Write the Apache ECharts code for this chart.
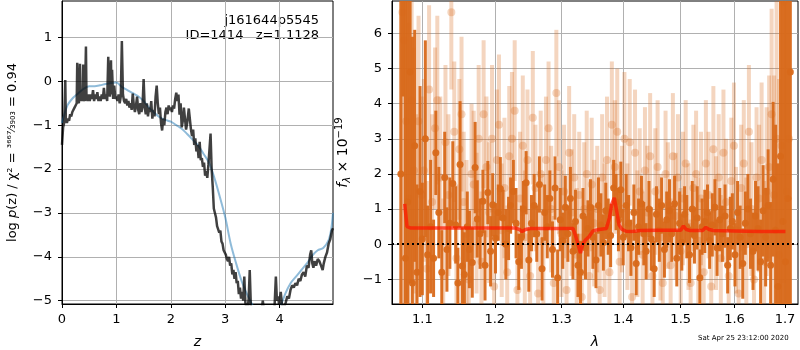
<!DOCTYPE html>
<html>
<head>
<meta charset="utf-8">
<script src="https://cdn.jsdelivr.net/npm/echarts@6/dist/echarts.min.js"></script>
<style>
  html, body { margin: 0; padding: 0; background: #fff; }
  #chart { width: 800px; height: 350px; }
</style>
</head>
<body>
<div id="chart"></div>
<script>
// left panel: log p(z), noisy fit and smooth prior-ish curve
const zDark = [
  0.00, 0.02, 0.04, 0.06, 0.07, 0.09, 0.11, 0.13, 0.15, 0.17, 0.19, 0.21, 0.23, 0.25, 0.27, 0.28, 0.29, 0.31, 0.33, 0.34,
  0.36, 0.38, 0.39, 0.40, 0.42, 0.44, 0.45, 0.47, 0.49, 0.51, 0.53, 0.55, 0.57, 0.59, 0.61, 0.63, 0.65, 0.67, 0.69, 0.71,
  0.73, 0.75, 0.77, 0.79, 0.81, 0.83, 0.85, 0.86, 0.88, 0.90, 0.91, 0.92, 0.94, 0.96, 0.98, 1.00, 1.02, 1.04, 1.06, 1.08,
  1.10, 1.12, 1.14, 1.16, 1.18, 1.20, 1.22, 1.24, 1.26, 1.28, 1.30, 1.32, 1.34, 1.36, 1.38, 1.40, 1.42, 1.44, 1.46, 1.48,
  1.50, 1.52, 1.54, 1.56, 1.58, 1.60, 1.62, 1.64, 1.66, 1.68, 1.70, 1.72, 1.74, 1.76, 1.78, 1.80, 1.82, 1.84, 1.86, 1.88,
  1.90, 1.92, 1.94, 1.96, 1.98, 2.00, 2.02, 2.04, 2.06, 2.08, 2.10, 2.12, 2.14, 2.16, 2.18, 2.20, 2.22, 2.24, 2.26, 2.28,
  2.30, 2.33, 2.35, 2.37, 2.39, 2.41, 2.43, 2.45, 2.47, 2.49, 2.51, 2.53, 2.55, 2.57, 2.59, 2.61, 2.63, 2.65, 2.67, 2.69,
  2.71, 2.73, 2.75, 2.77, 2.79, 2.81, 2.83, 2.85, 2.87, 2.89, 2.91, 2.93, 2.95, 2.97, 2.99, 3.01, 3.03, 3.05, 3.07, 3.09,
  3.11, 3.13, 3.15, 3.17, 3.19, 3.21, 3.23, 3.25, 3.27, 3.29, 3.31, 3.33, 3.35, 3.37, 3.39, 3.41, 3.43, 3.45, 3.47, 3.49,
  3.52, 3.56, 3.60, 3.64, 3.67, 3.69, 3.71, 3.75, 3.80, 3.85, 3.90, 3.93, 3.95, 3.97, 3.99, 4.02, 4.05, 4.08, 4.11, 4.14,
  4.17, 4.20, 4.23, 4.26, 4.29, 4.32, 4.35, 4.38, 4.41, 4.44, 4.47, 4.50, 4.53, 4.56, 4.58, 4.60, 4.62, 4.64, 4.67, 4.70,
  4.73, 4.76, 4.79, 4.81, 4.84, 4.87, 4.90, 4.93, 4.96, 4.98
]
const logpDark = [
  -1.45, -1.05, -0.95, 0.03, -0.85, -0.95, -0.85, -0.9, -0.75, -0.8, -0.7, -0.72, -0.6, -0.55, -0.5, 0.42, -0.45, -0.5, 0.40, -0.45,
  -0.35, -0.45, 0.38, -0.4, -0.45, 0.79, -0.35, -0.45, -0.3, -0.45, -0.3, -0.4, -0.2, -0.45, -0.3, -0.4, -0.25, -0.45, -0.35, -0.45,
  -0.3, -0.4, -0.15, -0.4, -0.3, -0.45, 0.56, -0.2, -0.35, 0.48, -0.3, 0.26, -0.4, -0.1, -0.4, -0.35, -0.45, -0.3, -0.5, -0.35,
  0.92, -0.3, -0.45, -0.5, -0.4, -0.55, -0.45, -0.6, -0.5, -0.65, -0.28, -0.55, -0.7, -0.55, -0.35, -0.65, -0.75, -0.5, -0.7, -0.55,
  0.05, -0.6, -0.75, -0.5, -0.8, -0.6, -0.7, -0.45, -0.85, -0.65, -0.8, -0.35, -0.1, -0.5, -0.75, -0.6, -0.95, -1.12, -0.85, -1.0,
  -0.7, -0.6, -0.75, -0.55, -0.65, -0.6, -0.7, -0.55, -0.62, -0.4, -0.26, -0.45, -0.3, -0.76, -0.5, -1.05, -0.9, -0.6, -0.85, -1.1,
  -0.95, -0.62, -0.6, -1.1, -1.25, -1.1, -1.45, -1.3, -1.6, -1.45, -1.75, -1.38, -1.8, -1.75, -1.95, -1.85, -2.15, -2.05, -2.2, -1.9,
  -1.55, -1.19, -2.0, -2.4, -2.9, -3.0, -3.1, -3.3, -3.3, -3.45, -3.4, -3.65, -3.7, -3.85, -3.9, -3.95, -4.05, -4.1, -4.0, -4.2,
  -4.15, -4.4, -4.3, -4.5, -4.35, -4.6, -4.55, -4.85, -4.7, -4.95, -4.8, -5.0, -4.45, -5.05, -5.15, -5.2, -4.95, -4.3, -5.1, -5.3,
  -5.4, -5.5, -5.6, -5.3, -5.2, -5.0, -5.2, -5.5, -5.7, -5.6, -5.3, -4.45, -5.0, -4.9, -5.1, -4.8, -5.2, -5.15, -5.05, -4.9,
  -4.95, -4.75, -4.65, -4.7, -4.6, -4.65, -4.5, -4.55, -4.4, -4.35, -4.45, -4.2, -4.25, -3.95, -3.85, -4.15, -4.25, -4.1, -4.2, -4.05,
  -4.1, -4.2, -4.3, -4.15, -4.0, -3.9, -3.7, -3.6, -3.4, -3.35
]
const zSmooth = [
  0.0, 0.1, 0.2, 0.3, 0.4, 0.5, 0.6, 0.7, 0.8, 0.9, 1.0, 1.1, 1.2, 1.3, 1.4, 1.5, 1.6, 1.7, 1.8, 1.9,
  2.0, 2.1, 2.2, 2.3, 2.4, 2.5, 2.6, 2.7, 2.8, 2.9, 3.0, 3.1, 3.2, 3.3, 3.4, 3.5, 3.6, 3.7, 3.8, 3.9,
  4.0, 4.1, 4.2, 4.3, 4.4, 4.5, 4.6, 4.7, 4.8, 4.9, 4.95, 4.98
]
const logpSmooth = [
  -0.95, -0.55, -0.38, -0.27, -0.17, -0.11, -0.11, -0.09, -0.06, -0.04, -0.03, -0.13, -0.2, -0.27, -0.34, -0.45, -0.6, -0.72, -0.82, -0.88,
  -0.92, -1.0, -1.08, -1.2, -1.33, -1.46, -1.65, -1.85, -2.2, -2.63, -3.1, -3.7, -4.15, -4.55, -4.85, -5.1, -5.4, -5.6, -5.7, -5.6,
  -5.2, -4.85, -4.6, -4.45, -4.3, -4.15, -3.97, -3.85, -3.8, -3.62, -3.35, -3.0
]
const zTicks = [0, 1, 2, 3, 4]
const logpTicks = [-5, -4, -3, -2, -1, 0, 1]

// right panel: spectrum, two beams + model
const darkLam = [
  1.072, 1.075, 1.078, 1.081, 1.084, 1.087, 1.090, 1.093, 1.097, 1.100, 1.104, 1.107, 1.111, 1.115, 1.118, 1.122, 1.126, 1.130, 1.133, 1.137,
  1.141, 1.145, 1.148, 1.151, 1.154, 1.157, 1.161, 1.164, 1.168, 1.172, 1.175, 1.179, 1.183, 1.186, 1.190, 1.194, 1.197, 1.201, 1.205, 1.208,
  1.212, 1.216, 1.220, 1.223, 1.227, 1.231, 1.235, 1.239, 1.242, 1.246, 1.250, 1.254, 1.258, 1.262, 1.266, 1.270, 1.274, 1.278, 1.282, 1.286,
  1.290, 1.294, 1.298, 1.302, 1.306, 1.310, 1.314, 1.318, 1.322, 1.326, 1.330, 1.334, 1.338, 1.342, 1.346, 1.350, 1.355, 1.359, 1.363, 1.367,
  1.371, 1.375, 1.379, 1.384, 1.388, 1.392, 1.396, 1.400, 1.405, 1.409, 1.413, 1.418, 1.422, 1.426, 1.431, 1.435, 1.439, 1.444, 1.448, 1.453,
  1.457, 1.462, 1.466, 1.471, 1.475, 1.480, 1.484, 1.489, 1.493, 1.498, 1.502, 1.507, 1.511, 1.516, 1.521, 1.525, 1.530, 1.535, 1.539, 1.544,
  1.549, 1.553, 1.558, 1.563, 1.567, 1.572, 1.577, 1.582, 1.587, 1.592, 1.596, 1.601, 1.606, 1.611, 1.616, 1.621, 1.626, 1.631, 1.636, 1.641,
  1.646, 1.651, 1.656, 1.661, 1.666, 1.671, 1.676, 1.681, 1.686, 1.691, 1.696, 1.701, 1.706, 1.711
]
const darkFlux = [
  2.0, 10.5, -0.4, 1.2, 4.9, -1.1, 2.8, -0.8, 1.5, 0.15, 3.0, -0.3, 0.5, -0.4, 2.6, 0.9, -0.8, 1.9, -0.15, 0.6,
  1.73, 0.55, -1.1, 2.27, -0.62, -0.86, 0.5, -0.15, -0.52, 2.18, 0.72, 0.3, 1.22, -0.6, 1.47, -0.2, 1.12, 0.17, 0.9, 1.58,
  0.75, 0.0, 0.45, 1.1, 1.5, 0.6, -0.5, 0.2, 1.0, 1.75, -0.45, 0.6, 1.1, 0.3, 1.7, -0.7, 0.9, 0.5, 1.3, -0.15,
  1.6, -0.95, 0.7, 0.1, 1.05, 0.3, 1.3, -0.2, 0.65, -0.6, -0.8, 0.8, -0.1, 0.45, 1.05, 0.2, -0.45, 1.1, 0.55, 0.05,
  0.95, 0.5, 0.25, 1.6, 1.2, 0.7, 1.55, 0.2, 1.1, 0.6, -0.1, 0.9, -0.55, 0.5, 1.15, 0.3, -0.2, 1.0, 0.15, -0.7,
  0.85, 0.4, 1.1, -0.15, 0.7, 0.95, 0.3, 1.15, -0.4, 0.6, 0.05, 0.85, 0.5, -0.3, 1.0, 0.25, 0.75, -0.95, 0.5, 0.65,
  0.9, 0.1, 0.55, 1.05, -0.1, 0.7, 0.3, 0.8, -0.6, 0.45, 0.65, -0.3, 0.9, 0.2, -0.55, 0.6, 1.0, 0.3, -0.2, 0.8,
  0.45, -0.5, 0.95, 0.2, 1.1, -0.6, 1.85, 0.4, -1.2, 2.5, 0.65, -0.5, 1.3, 4.9
]
const darkErr = [
  9, 6.3, 9, 8, 6, 7, 3.3, 2.5, 3.0, 1.6, 2.8, 1.4, 1.9, 1.1, 1.2, 1.3, 1.2, 1.3, 1.2, 1.3,
  1.2, 1.1, 1.0, 1.8, 1.1, 1.2, 1.0, 1.1, 1.0, 1.3, 1.1, 1.0, 0.9, 1.0, 0.9, 1.0, 0.9, 1.0, 0.8, 0.9,
  0.8, 1.0, 0.9, 0.8, 0.9, 1.0, 0.8, 0.9, 0.8, 0.9, 0.9, 0.8, 0.9, 0.8, 0.8, 0.9, 0.8, 0.9, 0.8, 0.8,
  0.9, 0.8, 0.9, 0.8, 0.9, 0.8, 0.9, 0.8, 0.9, 0.9, 0.9, 0.8, 0.9, 0.8, 0.8, 0.9, 0.8, 0.8, 0.9, 0.8,
  0.8, 0.8, 0.9, 0.8, 0.8, 0.9, 0.8, 0.8, 0.9, 0.8, 0.8, 0.8, 0.9, 0.8, 0.8, 0.9, 0.8, 0.8, 0.9, 0.8,
  0.8, 0.9, 0.8, 0.8, 0.8, 0.9, 0.8, 0.8, 0.8, 0.9, 0.8, 0.8, 0.9, 0.8, 0.8, 0.8, 0.9, 0.8, 0.8, 0.9,
  0.8, 0.8, 0.9, 0.8, 0.8, 0.9, 0.8, 0.9, 0.8, 0.9, 0.8, 0.9, 0.9, 0.9, 1.0, 0.9, 1.0, 1.0, 1.1, 1.0,
  1.2, 1.2, 1.3, 1.4, 1.6, 1.8, 2.2, 3.0, 3.5, 5, 7, 10, 10, 10
]
const lightLam = [
  1.074, 1.076, 1.079, 1.082, 1.086, 1.089, 1.092, 1.095, 1.099, 1.102, 1.106, 1.109, 1.113, 1.117, 1.120, 1.124, 1.128, 1.131, 1.135, 1.139,
  1.143, 1.146, 1.150, 1.153, 1.156, 1.160, 1.163, 1.167, 1.170, 1.174, 1.177, 1.181, 1.184, 1.188, 1.192, 1.196, 1.199, 1.203, 1.206, 1.210,
  1.214, 1.218, 1.221, 1.225, 1.229, 1.233, 1.237, 1.241, 1.244, 1.248, 1.252, 1.256, 1.260, 1.264, 1.268, 1.272, 1.276, 1.280, 1.284, 1.288,
  1.292, 1.296, 1.300, 1.304, 1.308, 1.312, 1.316, 1.320, 1.324, 1.328, 1.332, 1.336, 1.340, 1.344, 1.348, 1.352, 1.357, 1.361, 1.365, 1.369,
  1.373, 1.377, 1.381, 1.386, 1.390, 1.394, 1.398, 1.402, 1.407, 1.411, 1.415, 1.420, 1.424, 1.428, 1.433, 1.437, 1.441, 1.446, 1.450, 1.455,
  1.459, 1.464, 1.468, 1.473, 1.477, 1.482, 1.486, 1.491, 1.495, 1.500, 1.504, 1.509, 1.514, 1.518, 1.523, 1.528, 1.532, 1.537, 1.542, 1.546,
  1.551, 1.556, 1.560, 1.565, 1.570, 1.574, 1.579, 1.584, 1.589, 1.594, 1.599, 1.603, 1.608, 1.613, 1.618, 1.623, 1.628, 1.633, 1.638, 1.643,
  1.648, 1.653, 1.658, 1.663, 1.668, 1.673, 1.678, 1.683, 1.688, 1.693, 1.698, 1.703, 1.708
]
const lightFlux = [
  6.6, 5.8, 3.5, 1.3, 4.1, 2.1, 0.5, 3.5, 1.4, 2.1, -0.7, 4.4, 1.2, 3.3, 4.1, 1.9, -0.9, 2.9, 1.4, 6.6,
  3.2, -0.4, 2.7, 3.7, 1.2, 0.3, -1.0, 2.0, 1.7, 0.6, 3.0, -0.5, 3.7, 2.2, 0.9, 3.0, -1.2, 2.4, 3.4, 0.4,
  1.6, -0.8, 2.5, 3.0, 3.8, -1.3, 1.3, 2.8, 0.2, 2.4, -0.9, 3.6, 1.6, -1.4, 2.0, 0.1, 2.4, 3.3, 1.0, -1.1,
  4.3, 2.2, 0.3, 1.5, -1.3, 2.6, 0.9, 1.9, -0.3, 1.4, -1.5, 1.0, 2.0, -0.9, 1.7, 0.6, 1.0, -1.3, 1.9, 0.4,
  2.4, -0.8, 3.4, 2.2, 3.2, -0.5, 1.0, 3.0, 0.5, 2.9, -1.5, 2.6, 0.3, 1.5, -0.3, 2.1, 0.9, 2.5, -0.9, 1.5,
  2.2, 0.2, -1.1, 2.0, 1.1, -0.6, 2.5, 0.8, 1.9, -0.2, 1.3, 2.3, 0.5, -1.1, 1.6, 2.0, 0.1, 1.3, -0.8, 2.3,
  1.4, -1.2, 2.7, 0.6, 1.9, -0.4, 2.6, 1.2, -0.9, 1.8, 2.8, 0.4, -1.4, 1.6, 2.3, 0.0, 3.2, 1.0, -1.0, 1.9,
  1.3, 2.4, -0.5, 1.5, 2.2, 3.7, 1.4, 3.0, -0.3, 2.8, 6.9, 1.5, 3.0
]
const lightErr = [
  10, 8, 6, 5, 4, 3.5, 3.2, 3.0, 2.8, 2.6, 2.5, 2.4, 2.5, 2.3, 2.4, 2.3, 2.2, 2.2, 2.3, 2.2,
  2.0, 2.1, 2.0, 2.2, 2.0, 2.1, 2.0, 2.0, 2.1, 2.0, 2.1, 2.0, 2.1, 2.0, 2.0, 2.1, 2.0, 2.0, 2.0, 1.9,
  2.0, 1.9, 2.0, 1.9, 2.0, 1.9, 1.9, 2.0, 1.9, 2.0, 1.9, 1.9, 1.8, 1.9, 1.8, 1.9, 1.8, 1.9, 1.8, 1.9,
  1.8, 1.9, 1.8, 1.9, 1.8, 1.9, 1.8, 1.8, 1.9, 1.8, 1.8, 1.9, 1.8, 1.8, 1.9, 1.8, 1.8, 1.8, 1.8, 1.9,
  1.8, 1.8, 1.8, 1.9, 1.8, 1.8, 1.8, 1.9, 1.8, 1.8, 1.8, 1.8, 1.8, 1.8, 1.8, 1.8, 1.9, 1.8, 1.8, 1.8,
  1.9, 1.8, 1.8, 1.8, 1.8, 1.9, 1.8, 1.8, 1.8, 1.8, 1.9, 1.8, 1.8, 1.8, 1.8, 1.8, 1.8, 1.9, 1.8, 1.8,
  1.8, 1.8, 1.8, 1.9, 1.8, 1.8, 1.8, 1.8, 1.9, 1.8, 1.8, 1.8, 1.9, 1.8, 1.8, 1.9, 1.9, 1.9, 2.0, 2.0,
  2.1, 2.2, 2.3, 2.4, 2.6, 3.0, 3.4, 4, 5, 6, 8, 10, 10
]
const modelLam = [
  1.077, 1.080, 1.085, 1.100, 1.150, 1.200, 1.230, 1.236, 1.240, 1.245, 1.252, 1.280, 1.318, 1.322, 1.326, 1.330, 1.334, 1.338, 1.344, 1.350,
  1.360, 1.372, 1.377, 1.381, 1.385, 1.389, 1.393, 1.398, 1.405, 1.415, 1.430, 1.460, 1.500, 1.505, 1.510, 1.517, 1.540, 1.546, 1.552, 1.560,
  1.600, 1.650, 1.701
]
const modelFlux = [
  1.15, 0.5, 0.46, 0.46, 0.46, 0.46, 0.46, 0.42, 0.36, 0.42, 0.45, 0.45, 0.45, 0.25, 0.0, -0.25, 0.02, 0.12, 0.22, 0.38,
  0.42, 0.45, 0.75, 1.15, 1.32, 0.95, 0.55, 0.42, 0.37, 0.36, 0.39, 0.4, 0.4, 0.52, 0.42, 0.39, 0.39, 0.48, 0.42, 0.39,
  0.38, 0.36, 0.36
]
const lamTicks = [1.1, 1.2, 1.3, 1.4, 1.5, 1.6, 1.7]
const fluxTicks = [-1, 0, 1, 2, 3, 4, 5, 6]

const FONT = 'DejaVu Sans'
const ORANGE = '#d8691a'
const minus = v => String(v).replace('-', '\u2212')

// wavelength axis is logarithmic, so the series go in as ln(lambda)
const lnPoints = (lam, flux, err) => lam.map((l, i) => [Math.log(l), flux[i], err[i]])

const errRender = (width, radius, opacity) => (params, api) => {
  const x = api.value(0)
  const y = api.value(1)
  const e = api.value(2)
  const top = api.coord([x, y + e])
  const bot = api.coord([x, y - e])
  const mid = api.coord([x, y])
  return {
    type: 'group',
    children: [
      { type: 'line', shape: { x1: top[0], y1: top[1], x2: bot[0], y2: bot[1] }, style: { stroke: ORANGE, lineWidth: width, opacity: opacity } },
      { type: 'circle', shape: { cx: mid[0], cy: mid[1], r: radius }, style: { fill: ORANGE, opacity: opacity } },
    ],
  }
}

const axisCommon = {
  axisLine: { show: true, onZero: false, lineStyle: { color: '#000', width: 1 } },
  axisTick: { show: true, inside: false, length: 4, lineStyle: { color: '#000' } },
  axisLabel: { color: '#000', fontFamily: FONT, fontSize: 13, margin: 8 },
  splitLine: { show: true, lineStyle: { color: '#b0b0b0', width: 1 } },
}

const chart = echarts.init(document.getElementById('chart'), null, { renderer: 'canvas' })

chart.setOption({
  animation: false,
  backgroundColor: '#fff',
  grid: [
    { left: 62, top: 1, width: 271, height: 303, outerBoundsMode: 'none', show: true, borderColor: '#000', borderWidth: 1, backgroundColor: 'transparent' },
    { left: 392, top: 1, width: 406, height: 303, outerBoundsMode: 'none', show: true, borderColor: '#000', borderWidth: 1, backgroundColor: 'transparent' },
  ],
  xAxis: [
    {
      ...axisCommon,
      type: 'value', gridIndex: 0, min: 0, max: 4.98,
      axisTick: { ...axisCommon.axisTick, customValues: zTicks },
      axisLabel: { ...axisCommon.axisLabel, margin: 9, customValues: zTicks },
      name: 'z', nameLocation: 'middle', nameGap: 31,
      nameTextStyle: { fontFamily: FONT, fontSize: 14, fontStyle: 'italic', color: '#000' },
    },
    {
      ...axisCommon,
      type: 'value', gridIndex: 1, min: Math.log(1.0607), max: Math.log(1.7268),
      axisTick: { ...axisCommon.axisTick, customValues: lamTicks.map(Math.log) },
      axisLabel: { ...axisCommon.axisLabel, margin: 9, customValues: lamTicks.map(Math.log), formatter: v => Math.exp(v).toFixed(1) },
      name: 'λ', nameLocation: 'middle', nameGap: 31,
      nameTextStyle: { fontFamily: FONT, fontSize: 14, fontStyle: 'italic', color: '#000' },
    },
  ],
  yAxis: [
    {
      ...axisCommon,
      type: 'value', gridIndex: 0, min: -5.075, max: 1.83,
      axisTick: { ...axisCommon.axisTick, customValues: logpTicks },
      axisLabel: { ...axisCommon.axisLabel, margin: 10, customValues: logpTicks, formatter: minus },
      name: '{n|log }{i|p}{n|(z) / χ² = }{f|³⁶⁶⁷⁄₃₉₀₃}{n| = 0.94}',
      nameLocation: 'middle', nameGap: 43,
      nameTextStyle: {
        color: '#000',
        rich: {
          n: { fontFamily: FONT, fontSize: 13, color: '#000' },
          i: { fontFamily: FONT, fontSize: 13, fontStyle: 'italic', color: '#000' },
          f: { fontFamily: FONT, fontSize: 11, color: '#000' },
        },
      },
    },
    {
      ...axisCommon,
      type: 'value', gridIndex: 1, min: -1.70, max: 6.92,
      axisTick: { ...axisCommon.axisTick, customValues: fluxTicks },
      axisLabel: { ...axisCommon.axisLabel, margin: 10, customValues: fluxTicks, formatter: minus },
      name: '{i|f}{s|λ}{n| × 10}{p|−19}',
      nameLocation: 'middle', nameGap: 37,
      nameTextStyle: {
        color: '#000',
        rich: {
          i: { fontFamily: FONT, fontSize: 14, fontStyle: 'italic', color: '#000' },
          s: { fontFamily: FONT, fontSize: 10, fontStyle: 'italic', color: '#000', padding: [8, 0, 0, 0] },
          n: { fontFamily: FONT, fontSize: 14, color: '#000' },
          p: { fontFamily: FONT, fontSize: 10, color: '#000', padding: [0, 0, 8, 0] },
        },
      },
    },
  ],
  graphic: [
    {
      type: 'text', x: 319, y: 14,
      style: { text: 'j161644p5545', align: 'right', fontFamily: FONT, fontSize: 13, fill: '#000' },
    },
    {
      type: 'text', x: 319, y: 29,
      style: { text: 'ID=1414   z=1.1128', align: 'right', fontFamily: FONT, fontSize: 13, fill: '#000' },
    },
    {
      type: 'text', x: 698, y: 335,
      style: { text: 'Sat Apr 25 23:12:00 2020', fontFamily: FONT, fontSize: 7, fill: '#000' },
    },
  ],
  series: [
    {
      type: 'line', xAxisIndex: 0, yAxisIndex: 0, clip: true,
      data: zSmooth.map((z, i) => [z, logpSmooth[i]]),
      smooth: 0.3, showSymbol: false,
      lineStyle: { color: 'rgba(31,119,180,0.5)', width: 2 },
    },
    {
      type: 'line', xAxisIndex: 0, yAxisIndex: 0, clip: true,
      data: zDark.map((z, i) => [z, logpDark[i]]),
      showSymbol: false,
      lineStyle: { color: 'rgba(0,0,0,0.75)', width: 2.5 },
    },
    {
      type: 'custom', xAxisIndex: 1, yAxisIndex: 1, clip: true,
      data: lnPoints(lightLam, lightFlux, lightErr),
      renderItem: errRender(4, 4, 0.28),
    },
    {
      type: 'custom', xAxisIndex: 1, yAxisIndex: 1, clip: true,
      data: lnPoints(darkLam, darkFlux, darkErr),
      renderItem: errRender(3, 3.5, 0.95),
    },
    {
      type: 'line', xAxisIndex: 1, yAxisIndex: 1, clip: true,
      data: modelLam.map((l, i) => [Math.log(l), modelFlux[i]]),
      showSymbol: false,
      lineStyle: { color: 'rgba(255,20,0,0.7)', width: 3.5 },
      markLine: {
        silent: true, symbol: 'none', label: { show: false },
        lineStyle: { color: '#000', type: [2, 3], width: 2 },
        data: [{ yAxis: 0 }],
      },
    },
  ],
})
</script>
</body>
</html>
